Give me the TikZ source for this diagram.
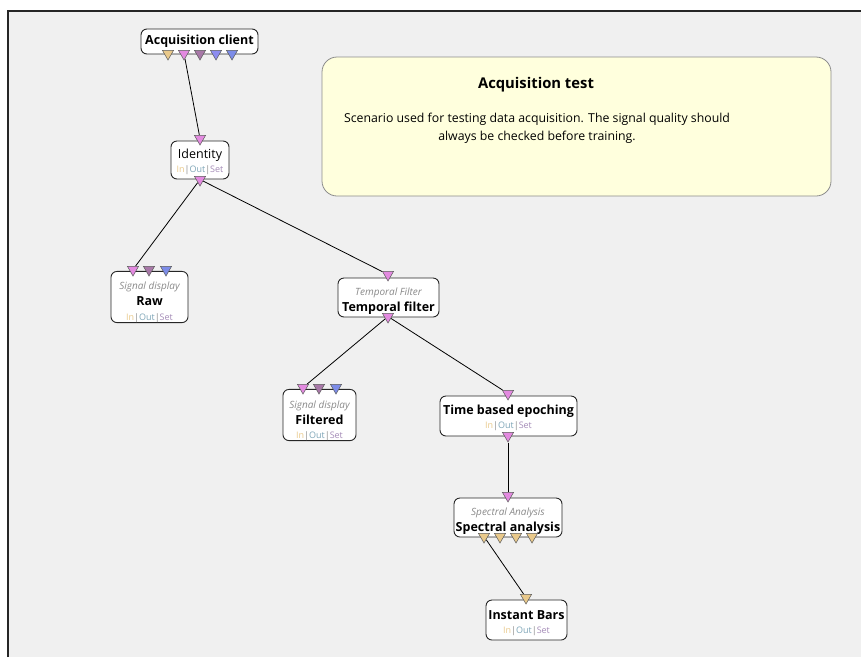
\documentclass[tikz,border=0pt]{standalone}
\usepackage{fontspec}
\setmainfont{Open Sans}
\usetikzlibrary{shapes.geometric, backgrounds}
\definecolor{ovbg}{HTML}{F0F0F0}
\definecolor{ovnote}{HTML}{FFFFDD}
\definecolor{ovtan}{HTML}{E9C98B}
\definecolor{ovpink}{HTML}{E38AE0}
\definecolor{ovmauve}{HTML}{A878A8}
\definecolor{ovperi}{HTML}{8C8CF0}
\definecolor{ovblue}{HTML}{7C8CE8}
\definecolor{ovgray}{HTML}{8A8A8A}
\definecolor{ovslate}{HTML}{7FA6B8}
\definecolor{ovviolet}{HTML}{A58CB8}
\newcommand{\ovios}{{\fontsize{9}{11}\selectfont\mdseries{\color{ovtan}In}{\color{ovgray}|}{\color{ovslate}Out}{\color{ovgray}|}{\color{ovviolet}Set}}}
\newcommand{\ovkind}[1]{{\fontsize{10}{12}\selectfont\mdseries\itshape\color{ovgray}#1}}
\newcommand{\ovtop}[1]{\rule{0pt}{#1}}

\begin{document}
\begin{tikzpicture}[
  x=1pt, y=-1pt,
  every node/.style={font=\fontsize{12.5}{16}\selectfont},
  box/.style={rectangle, rounded corners=6pt, draw=black!85, fill=white, line width=0.9pt, inner sep=0pt, align=center},
  sock/.style={regular polygon, regular polygon sides=3, shape border rotate=180, minimum size=13pt, inner sep=0pt, draw=black!65, line width=0.5pt},
  link/.style={draw=black, line width=0.8pt},
]

\useasboundingbox (0,0) rectangle (861,657);

% Canvas
\begin{scope}[on background layer]
\fill[ovbg] (8,11) rectangle (861,657);
\draw[line width=2pt, black!85] (8,657) -- (8,11) -- (861,11);
\end{scope}

% Comment
\node[rectangle, rounded corners=15pt, draw=black!45, fill=ovnote, line width=0.8pt, minimum width=509pt, minimum height=139pt] (note) at (576.5,126.5) {};
\node[font=\fontsize{14.8}{16}\selectfont\bfseries] (notetitle) at (536,85) {Acquisition test};
\node[align=center, font=\fontsize{12.3}{18}\selectfont] (notebody) at (537,128) {Scenario used for testing data acquisition. The signal quality should\\always be checked before training.};

% Boxes
\node[box, minimum width=117pt, minimum height=25pt] (acq) at (199.5,41.5) {\bfseries Acquisition client\vphantom{g}};
\node[box, minimum width=58pt, minimum height=38pt] (ident) at (200,160) {\ovtop{13.5pt}Identity\\[-2pt]\ovios};
\node[box, minimum width=77pt, minimum height=50pt] (raw) at (149.5,297) {\ovtop{18pt}\ovkind{Signal display}\\[0pt]\bfseries Raw\\[-1pt]\ovios};
\node[box, minimum width=101pt, minimum height=39pt] (tempf) at (388.5,297.5) {\ovtop{14pt}\ovkind{Temporal Filter}\\[0pt]\bfseries Temporal filter};
\node[box, minimum width=73pt, minimum height=50pt] (filt) at (319.5,415) {\ovtop{19pt}\ovkind{Signal display}\\[0pt]\bfseries Filtered\\[-2pt]\ovios};
\node[box, minimum width=137pt, minimum height=40pt] (epoch) at (508.5,416) {\ovtop{13.5pt}\bfseries Time based epoching\\[-2pt]\ovios};
\node[box, minimum width=108pt, minimum height=39pt] (spec) at (508,517.5) {\ovtop{15.5pt}\ovkind{Spectral Analysis}\\[0pt]\bfseries Spectral analysis};
\node[box, minimum width=81pt, minimum height=40pt] (bars) at (526.5,620) {\ovtop{15pt}\bfseries Instant Bars\\[-2pt]\ovios};

% Sockets
\node[sock, fill=ovtan] (acqo1) at (168,53.5) {};
\node[sock, fill=ovpink] (acqo2) at (184,53.5) {};
\node[sock, fill=ovmauve] (acqo3) at (200,53.5) {};
\node[sock, fill=ovperi] (acqo4) at (216,53.5) {};
\node[sock, fill=ovblue] (acqo5) at (232,53.5) {};
\node[sock, fill=ovpink] (identi) at (200,138.5) {};
\node[sock, fill=ovpink] (idento) at (200,179.5) {};
\node[sock, fill=ovpink] (rawi1) at (133,269.5) {};
\node[sock, fill=ovmauve] (rawi2) at (149,269.5) {};
\node[sock, fill=ovblue] (rawi3) at (166,269.5) {};
\node[sock, fill=ovpink] (tempfi) at (388,274.5) {};
\node[sock, fill=ovpink] (tempfo) at (388,316.5) {};
\node[sock, fill=ovpink] (filti1) at (303,387.5) {};
\node[sock, fill=ovmauve] (filti2) at (319,387.5) {};
\node[sock, fill=ovblue] (filti3) at (336,387.5) {};
\node[sock, fill=ovpink] (epochi) at (508,393.5) {};
\node[sock, fill=ovpink] (epocho) at (508,435.5) {};
\node[sock, fill=ovpink] (speci) at (508,495.5) {};
\node[sock, fill=ovtan] (speco1) at (484,536.5) {};
\node[sock, fill=ovtan] (speco2) at (500,536.5) {};
\node[sock, fill=ovtan] (speco3) at (516,536.5) {};
\node[sock, fill=ovtan] (speco4) at (532,536.5) {};
\node[sock, fill=ovtan] (barsi) at (526,597.5) {};

% Links
\begin{scope}[on background layer]
\draw[link] (acqo2) -- (identi);
\draw[link] (idento) -- (rawi1);
\draw[link] (idento) -- (tempfi);
\draw[link] (tempfo) -- (filti1);
\draw[link] (tempfo) -- (epochi);
\draw[link] (epocho) -- (speci);
\draw[link] (speco1) -- (barsi);
\end{scope}

\end{tikzpicture}
\end{document}
